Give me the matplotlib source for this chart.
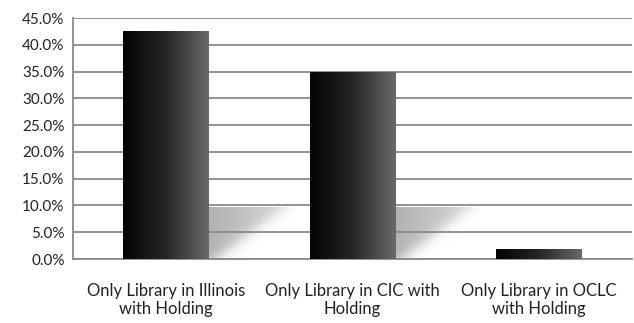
import matplotlib
matplotlib.use("Agg")

import matplotlib.pyplot as plt
import numpy as np

# chart data
categories = ["Only Library in Illinois\nwith Holding",
              "Only Library in CIC with\nHolding",
              "Only Library in OCLC\nwith Holding"]
values = [42.6, 35.0, 1.9]
yticks = [0, 5, 10, 15, 20, 25, 30, 35, 40, 45]

plt.rcParams['font.family'] = ['Lato', 'DejaVu Sans']

fig = plt.figure(figsize=(6.34, 3.23), dpi=100)
ax = fig.add_axes([0.115, 0.198, 0.882, 0.746])

x = np.arange(len(categories))
bw = 0.46

# horizontal gradient used for bars (black -> mid gray)
grad = np.linspace(0, 1, 512).reshape(1, -1)
bar_cmap = matplotlib.colors.LinearSegmentedColormap.from_list(
    "bar", ["#030303", "#262626", "#6a6a6a"], N=512)

# soft floor shadow image: diagonal edge, fading to the right
sw = 0.45
uu, vv = np.meshgrid(np.linspace(0, 1, 200), np.linspace(0, 1, 100))
edge = 0.08 + 0.82 * vv          # diagonal boundary, wider at the top
alpha = 1 / (1 + np.exp((uu - edge) / 0.07))
alpha *= (1 - 0.5 * uu)
shadow = np.zeros((100, 200, 4))
shadow[..., :3] = 0.62
shadow[..., 3] = 0.8 * alpha

for xi, v in zip(x, values):
    x0, x1 = xi - bw / 2, xi + bw / 2
    if v > 5:
        sh_top = min(v, 9.7)
        ax.imshow(shadow, aspect="auto", origin="lower",
                  extent=(x1, x1 + sw, 0, sh_top), zorder=0.2)
    rect = plt.Rectangle((x0, 0), bw, v, facecolor="none", edgecolor="none")
    ax.add_patch(rect)
    im = ax.imshow(grad, cmap=bar_cmap, aspect="auto", interpolation="bilinear",
                   extent=(x0, x1, 0, v), zorder=3)
    im.set_clip_path(rect)

ax.set_xlim(-0.5, len(categories) - 0.5)
ax.set_ylim(0, 45)

ax.set_yticks(yticks)
ax.set_yticklabels([f"{t:.1f}%" for t in yticks])
ax.set_xticks(x)
ax.set_xticklabels(categories, fontsize=12, linespacing=1.15)
ax.yaxis.grid(True, color="#8a8a8a", linewidth=1.3, zorder=0.5)
ax.set_axisbelow(True)
ax.tick_params(axis="both", length=0, colors="#222222")
ax.tick_params(axis="y", labelsize=11, pad=6)
ax.tick_params(axis="x", pad=17)

for side in ["top", "right"]:
    ax.spines[side].set_visible(False)
for side in ["left", "bottom"]:
    ax.spines[side].set_color("#8a8a8a")
    ax.spines[side].set_linewidth(1.3)

fig.savefig("out.png", dpi=100)
